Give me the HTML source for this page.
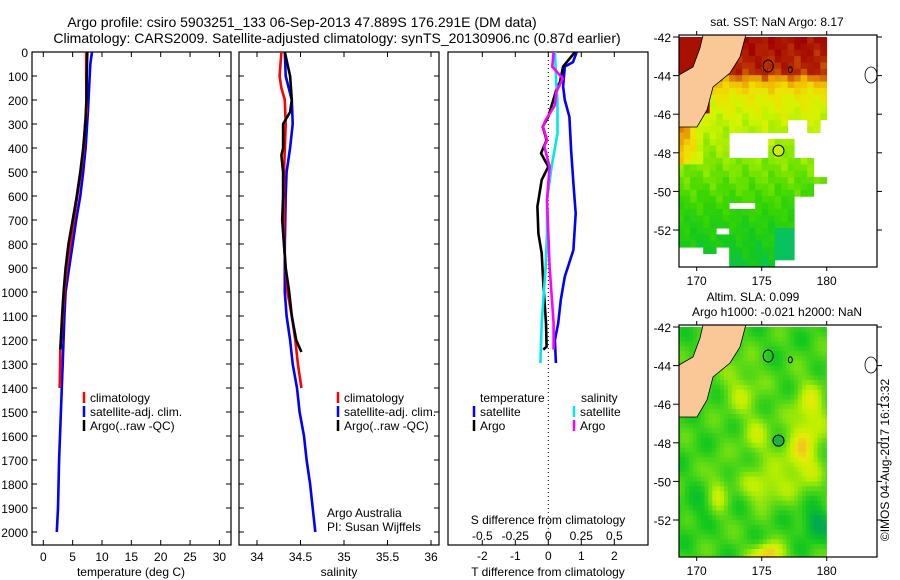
<!DOCTYPE html>
<html><head><meta charset="utf-8">
<style>
html,body{margin:0;padding:0;background:#fff;}
svg{display:block;font-family:"Liberation Sans",sans-serif;}
</style></head>
<body>
<svg id="fig" width="900" height="580" viewBox="0 0 900 580" xmlns="http://www.w3.org/2000/svg">
<defs>
<clipPath id="clipSST"><rect x="679" y="35" width="198" height="232"/></clipPath>
<clipPath id="clipSLA"><rect x="679" y="325" width="198" height="232"/></clipPath>
</defs>
<text x="302" y="27" font-size="14" text-anchor="middle">Argo profile: csiro 5903251_133 06-Sep-2013 47.889S 176.291E (DM data)</text>
<text x="337" y="43" font-size="14" text-anchor="middle">Climatology: CARS2009. Satellite-adjusted climatology: synTS_20130906.nc (0.87d earlier)</text>
<g id="g1"></g>
<g id="g2"></g>
<g id="g3"></g>
<g id="m1"></g>
<g id="m2"></g>
<text transform="translate(889,460) rotate(-90)" font-size="12" text-anchor="middle">©IMOS 04-Aug-2017 16:13:32</text>
</svg>
<script>
// ---- data ----
const tArgoDepth=[0,100,200,300,400,500,600,700,800,900,1000,1100,1240];
const tArgo=[7.5,7.4,7.35,7.15,6.8,6.3,5.7,5.0,4.3,3.8,3.45,3.2,2.9];
const tClimDepth=[0,100,250,300,400,500,600,700,800,900,1000,1100,1250,1400];
const tClim=[7.3,7.3,7.4,7.1,6.9,6.4,5.8,5.2,4.6,4.0,3.6,3.3,2.9,2.8];
const tSatDepth=[0,50,250,400,500,600,700,800,900,1000,1100,1300,1500,1700,1900,2000];
const tSat=[8.3,8.0,7.6,7.2,6.8,6.3,5.6,5.0,4.4,3.8,3.6,3.3,3.0,2.7,2.5,2.3];
const sArgoDepth=[0,100,200,250,300,400,430,500,600,700,900,1000,1100,1200,1250];
const sArgo=[34.32,34.38,34.40,34.38,34.30,34.30,34.28,34.30,34.30,34.29,34.33,34.37,34.40,34.45,34.51];
const sClimDepth=[0,100,150,200,300,500,800,900,1000,1100,1200,1300,1400];
const sClim=[34.28,34.26,34.28,34.32,34.33,34.31,34.31,34.33,34.35,34.40,34.44,34.47,34.51];
const sSatDepth=[0,100,200,300,400,500,600,800,1000,1100,1200,1300,1400,1500,1600,1700,1800,1900,2000];
const sSat=[34.32,34.33,34.40,34.41,34.38,34.34,34.33,34.32,34.32,34.34,34.38,34.41,34.46,34.49,34.54,34.57,34.61,34.64,34.67];
const dTSatDepth=[0,42,61,144,200,270,408,547,672,825,936,1033,1130,1200,1296];
const dTSat=[0.86,0.75,0.5,0.45,0.5,0.64,0.69,0.76,0.83,0.76,0.5,0.38,0.30,0.2,0.23];
const dTArgoDepth=[0,61,128,144,200,270,311,367,422,478,533,644,756,839,964,1130,1228,1240];
const dTArgo=[0.81,0.45,0.35,0.27,0.15,0,-0.17,-0.05,-0.22,0,-0.2,-0.33,-0.3,-0.2,-0.15,-0.07,-0.05,-0.15];
const dSSatDepth=[0,128,200,339,478,617,756,894,1130,1296];
const dSSat=[0.05,0.06,0.07,0.07,0.025,-0.01,-0.01,-0.02,-0.05,-0.06];
const dSArgoDepth=[0,61,111,167,222,283,311,367,394,478,617,894,1130,1240];
const dSArgo=[0.04,0.03,0.11,0.06,0.05,-0.02,-0.04,-0.01,-0.03,0.01,-0.01,0.01,0.04,0.04];
const depthTicks=[0,100,200,300,400,500,600,700,800,900,1000,1100,1200,1300,1400,1500,1600,1700,1800,1900,2000];
const tempTicks=[0,5,10,15,20,25,30];
const salTicks=[34,34.5,35,35.5,36];
const tDiffTicks=[-2,-1,0,1,2];
const sDiffTicks=[-0.5,-0.25,0,0.25,0.5];
const latTicks=[-42,-44,-46,-48,-50,-52];
const lonTicks=[170,175,180];
const argoPos=[176.291,-47.889];

// ---- scales ----
const yD=d=>52+d*0.24;
const xT=t=>43.3+t*5.87;
const xS=s=>257+(s-34)*87;
const xTd=v=>548.3+v*33;
const xSd=v=>548.3+v*132;
const NS='http://www.w3.org/2000/svg';
function mk(tag,attrs,parent){const e=document.createElementNS(NS,tag);for(const k in attrs)e.setAttribute(k,attrs[k]);parent.appendChild(e);return e;}
function txt(s,x,y,size,anchor,parent){const e=mk('text',{x:x,y:y,'font-size':size,'text-anchor':anchor||'start'},parent);e.textContent=s;return e;}

function linePath(depths,vals,xf){
  return depths.map((dd,i)=>(i?'L':'M')+xf(vals[i]).toFixed(1)+','+yD(dd).toFixed(1)).join('');
}
function frame(g,x0,x1,name){
  const r=mk('rect',{x:x0,y:52,width:x1-x0,height:493,fill:'none',stroke:'#000','stroke-width':1.2},g);
  
  
  depthTicks.forEach(d=>{
    mk('line',{x1:x0,x2:x0+5,y1:yD(d),y2:yD(d),stroke:'#000'},g);
    mk('line',{x1:x1,x2:x1-5,y1:yD(d),y2:yD(d),stroke:'#000'},g);
  });
}
function series(g,d,color,name,w){
  const p=mk('path',{d:d,fill:'none',stroke:color,'stroke-width':w||2.6,'stroke-linejoin':'round'},g);
  
  
}
function legendItem(g,x,y,color,label,name){
  const l=mk('g',{},g);
  
  
  mk('line',{x1:x,x2:x,y1:y-10,y2:y+1,stroke:color,'stroke-width':2.5},l);
  txt(label,x+6,y,12,'start',l);
}

// ---- panel 1 ----
const g1=document.getElementById('g1');
frame(g1,32,231,'temperature-axes-frame');
depthTicks.forEach(d=>{const t=txt(String(d),28,yD(d)+5,12,'end',g1);});
tempTicks.forEach(v=>{mk('line',{x1:xT(v),x2:xT(v),y1:545,y2:540,stroke:'#000'},g1);mk('line',{x1:xT(v),x2:xT(v),y1:52,y2:57,stroke:'#000'},g1);txt(String(v),xT(v),561,12,'middle',g1);});
const xl1=txt('temperature (deg C)',131,576,12,'middle',g1);


series(g1,linePath(tSatDepth,tSat,xT),'#0000ff','temp-satellite-line');
series(g1,linePath(tClimDepth,tClim,xT),'#ff0000','temp-climatology-line');
series(g1,linePath(tArgoDepth,tArgo,xT),'#000','temp-argo-line');
legendItem(g1,84,402,'#ff0000','climatology','legend-climatology');
legendItem(g1,84,416,'#0000ff','satellite-adj. clim.','legend-satellite');
legendItem(g1,84,430,'#000','Argo(..raw -QC)','legend-argo');

// ---- panel 2 ----
const g2=document.getElementById('g2');
frame(g2,239,439,'salinity-axes-frame');
salTicks.forEach(v=>{mk('line',{x1:xS(v),x2:xS(v),y1:545,y2:540,stroke:'#000'},g2);mk('line',{x1:xS(v),x2:xS(v),y1:52,y2:57,stroke:'#000'},g2);txt(String(v),xS(v),561,12,'middle',g2);});
const xl2=txt('salinity',339,576,12,'middle',g2);


series(g2,linePath(sSatDepth,sSat,xS),'#0000ff','sal-satellite-line');
series(g2,linePath(sClimDepth,sClim,xS),'#ff0000','sal-climatology-line');
series(g2,linePath(sArgoDepth,sArgo,xS),'#000','sal-argo-line');
legendItem(g2,338,402,'#ff0000','climatology','legend-climatology-2');
legendItem(g2,338,416,'#0000ff','satellite-adj. clim.','legend-satellite-2');
legendItem(g2,338,430,'#000','Argo(..raw -QC)','legend-argo-2');
txt('Argo Australia',327,517,12,'start',g2);
txt('PI: Susan Wijffels',327,531,12,'start',g2);

// ---- panel 3 ----
const g3=document.getElementById('g3');
const r3=mk('rect',{x:448,y:52,width:200,height:493,fill:'none',stroke:'#000','stroke-width':1.2},g3);


mk('line',{x1:548.3,x2:548.3,y1:52,y2:545,stroke:'#000','stroke-dasharray':'1,3'},g3);
tDiffTicks.forEach(v=>{mk('line',{x1:xTd(v),x2:xTd(v),y1:545,y2:540,stroke:'#000'},g3);mk('line',{x1:xTd(v),x2:xTd(v),y1:52,y2:57,stroke:'#000'},g3);txt(String(v),xTd(v),560,12,'middle',g3);});
sDiffTicks.forEach(v=>{txt(String(v),xSd(v),540,12,'middle',g3);});
txt('S difference from climatology',548,524,12,'middle',g3);
txt('T difference from climatology',548,576,12,'middle',g3);
series(g3,linePath(dTSatDepth,dTSat,xTd),'#0000ff','tdiff-satellite-line');
series(g3,linePath(dTArgoDepth,dTArgo,xTd),'#000','tdiff-argo-line');
series(g3,linePath(dSSatDepth,dSSat,xSd),'#00e8e8','sdiff-satellite-line');
series(g3,linePath(dSArgoDepth,dSArgo,xSd),'#ff00ff','sdiff-argo-line');
txt('temperature',480,402,12,'start',g3);
txt('salinity',581,402,12,'start',g3);
legendItem(g3,474,416,'#0000ff','satellite','legend-t-satellite');
legendItem(g3,474,430,'#000','Argo','legend-t-argo');
legendItem(g3,574,416,'#00e8e8','satellite','legend-s-satellite');
legendItem(g3,574,430,'#ff00ff','Argo','legend-s-argo');

// ---- maps ----
const mx=lon=>696.7+(lon-170)*13;
const my=(lat,top)=>top+2+(-42-lat)*19.3;
function lerp(a,b,t){return a.map((v,i)=>Math.round(v+(b[i]-v)*t));}
function ramp(stops,v){v=Math.max(0,Math.min(1,v));for(let i=0;i<stops.length-1;i++){if(v<=stops[i+1][0]){const t=(v-stops[i][0])/(stops[i+1][0]-stops[i][0]);return lerp(stops[i][1],stops[i+1][1],t);}}return stops[stops.length-1][1];}
function interp(xs,ys,x){if(x<=xs[0])return ys[0];for(let i=0;i<xs.length-1;i++){if(x<=xs[i+1]){const t=(x-xs[i])/(xs[i+1]-xs[i]);return ys[i]+(ys[i+1]-ys[i])*t;}}return ys[ys.length-1];}
const sstStops=[[0,[0,190,140]],[0.15,[20,200,30]],[0.3,[60,215,0]],[0.45,[150,235,0]],[0.55,[210,245,0]],[0.65,[240,225,0]],[0.75,[240,180,0]],[0.83,[210,100,0]],[0.9,[180,40,0]],[1,[160,0,0]]];
const slaStops=[[0,[0,170,80]],[0.3,[20,200,30]],[0.55,[100,220,20]],[0.75,[190,240,0]],[0.9,[230,235,10]],[1,[240,200,30]]];
const sstLatKnots=[-54,-52,-50,-48,-46.5,-45,-44.3,-43.8,-42];
const sstLatVals=[0.12,0.2,0.33,0.45,0.52,0.62,0.74,0.9,0.97];
function land(g,top){
  const o=top-35;
  const p=mk('polygon',{points:[[703,35],[746,35],[745,38],[740,57],[730,73],[713,87],[707,110],[697,127],[679,127],[679,75],[693,67],[700,48]].map(q=>q[0]+','+(q[1]+o)).join(' '),fill:'#fac896',stroke:'#000','stroke-width':0.8},g);
  
  
  mk('ellipse',{cx:mx(175.5),cy:my(-43.5,top),rx:5,ry:6,fill:'none',stroke:'#000'},g);
  mk('ellipse',{cx:mx(177.2),cy:my(-43.7,top),rx:2,ry:3,fill:'none',stroke:'#000'},g);
}
function mapAxes(g,top){
  const r=mk('rect',{x:679,y:top,width:198,height:232,fill:'none',stroke:'#000','stroke-width':1.2},g);
  
  
  mk('ellipse',{cx:871,cy:top+40,rx:6,ry:8,fill:'none',stroke:'#000','stroke-width':0.8},g);
  latTicks.forEach(l=>{const y=my(l,top);mk('line',{x1:679,x2:673,y1:y,y2:y,stroke:'#000'},g);mk('line',{x1:877,x2:882,y1:y,y2:y,stroke:'#000'},g);txt(String(l),671,y+5,12,'end',g);});
  lonTicks.forEach(l=>{const x=mx(l);mk('line',{x1:x,x2:x,y1:top,y2:top-4,stroke:'#000'},g);mk('line',{x1:x,x2:x,y1:top+232,y2:top+236,stroke:'#000'},g);txt(String(l),x,top+250,12,'middle',g);});
}
// SST map
const m1=document.getElementById('m1');
txt('sat. SST: NaN Argo: 8.17',777,26,12,'middle',m1);
const c1=mk('g',{'clip-path':'url(#clipSST)'},m1);
for(let lon=168.5;lon<180;lon+=0.5){for(let lat=-42;lat>-54;lat-=0.33){
  const lc=lat-0.16;
  let white=false;
  if(lc<-46.8&&lc>-48.3&&lon>=172.5&&lon<175.3)white=true;
  if(lc<-46.8&&lc>-47.4&&lon>=175.3)white=true;
  if(lc<-47.4&&lc>-48.3&&lon>=177.2)white=true;
  if(lc<-46.2&&lc>-46.8&&lon>=176.7&&lon<178.2)white=true;
  if(lc<-46.2&&lon>=179.3&&lc>-47.4)white=true;
  if(lc<-48.3&&lc>-49.2&&lon>=179)white=true;
  if(lc<-49.6&&lon>=178.8)white=true;
  if(lc<-50.7&&lc>-51&&lon>=172.5&&lon<174.5)white=true;
  if(lc<-50.4&&lon>=177.5)white=true;
  if(lc<-51.8&&lc>-52.3&&lon>=171.2&&lon<172.3)white=true;
  if(lc<-52.8&&(lon<170.5||(lon>=171.5&&lon<172.3)))white=true;
  if(lc<-53.4&&lon>=176)white=true;
  if(lc<-53.2&&lon>=170.5&&lon<171.5)white=true;
  if(white)continue;
  let v=interp(sstLatKnots,sstLatVals,lc)+0.035*Math.sin(lon*3.1+lat*2.3)+0.025*Math.cos(lon*7+lat*5);
  if(lon<170.5&&lc<-46&&lc>-48.5)v+=0.15*(170.5-lon);
  if(lon<171&&lc>=-46)v=0.96;
  if(lc<-52&&lon>175.5&&lon<177.5)v=0.06;
  const c=ramp(sstStops,v);
  mk('rect',{x:mx(lon).toFixed(1),y:my(lat,35).toFixed(1),width:6.9,height:6.8,fill:'rgb('+c+')'},c1);
}}
land(c1,35);
mapAxes(m1,35);
const a1=mk('circle',{cx:mx(argoPos[0]),cy:my(argoPos[1],35),r:5.5,fill:'#c8f000',stroke:'#000'},m1);



// SLA map
const m2=document.getElementById('m2');
txt('Altim. SLA: 0.099',753,301,12,'middle',m2);
txt('Argo h1000: -0.021 h2000: NaN',777,316,12,'middle',m2);
const c2=mk('g',{'clip-path':'url(#clipSLA)'},m2);
const blobs=[[178.5,-46.5,1.3,1.8,0.42],[177.8,-49,1.6,1.5,0.42],[175,-50.3,1.5,0.9,0.4],[175.3,-53.8,1.3,0.6,0.6],[173.3,-45.2,1.5,1.5,0.28],[174.5,-47.8,1.2,1.2,0.28],[171.5,-50.5,0.8,1.5,0.28],[179,-52.2,1,0.8,-0.45],[170,-51.5,1,1,-0.15]];
for(let lon=168.5;lon<180;lon+=0.3){for(let lat=-42;lat>-54.2;lat-=0.25){
  const lc=lat-0.12;
  let v=0.42+0.08*Math.sin(lon*2.2+lc*1.7)+0.06*Math.cos(lon*1.3-lc*2.9);
  blobs.forEach(b=>{const dx=(lon-b[0])/b[2],dy=(lc-b[1])/b[3];v+=b[4]*Math.exp(-(dx*dx+dy*dy));});
  const c=ramp(slaStops,v);
  mk('rect',{x:mx(lon).toFixed(1),y:my(lat,325).toFixed(1),width:4.3,height:5.2,fill:'rgb('+c+')'},c2);
}}
mk('rect',{x:mx(180)+0.2,y:325,width:60,height:232,fill:'#fff'},c2);
land(c2,325);
mapAxes(m2,325);
const a2=mk('circle',{cx:mx(argoPos[0]),cy:my(argoPos[1],325),r:5.5,fill:'#20b040',stroke:'#000'},m2);


</script>
</body></html>
